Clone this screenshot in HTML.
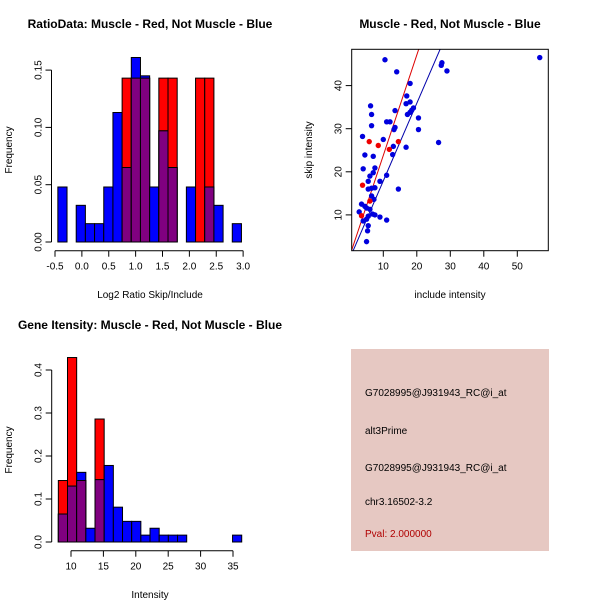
<!DOCTYPE html>
<html><head><meta charset="utf-8"><style>
body{margin:0;background:#fff}
svg{display:block;font-family:"Liberation Sans",sans-serif}
</style></head><body>
<svg id="c" width="600" height="600" xmlns="http://www.w3.org/2000/svg">
<rect width="600" height="600" fill="#fff"/>
<text x="150" y="28" font-size="12" font-weight="bold" text-anchor="middle">RatioData: Muscle - Red, Not Muscle - Blue</text>
<text x="450" y="28" font-size="12" font-weight="bold" text-anchor="middle">Muscle - Red, Not Muscle - Blue</text>
<text x="150" y="329" font-size="12" font-weight="bold" text-anchor="middle">Gene Itensity: Muscle - Red, Not Muscle - Blue</text>
<text x="150" y="298" font-size="10" text-anchor="middle">Log2 Ratio Skip/Include</text>
<text x="450" y="298" font-size="10" text-anchor="middle">include intensity</text>
<text x="150" y="598" font-size="10" text-anchor="middle">Intensity</text>
<text transform="translate(12,150) rotate(-90)" font-size="10" text-anchor="middle">Frequency</text>
<text transform="translate(312,150) rotate(-90)" font-size="10" text-anchor="middle">skip intensity</text>
<text transform="translate(12,450) rotate(-90)" font-size="10" text-anchor="middle">Frequency</text>
<g>
<rect x="351" y="349" width="198" height="202" fill="#e6c8c2"/>
<text x="365" y="396" font-size="10">G7028995@J931943_RC@i_at</text>
<text x="365" y="434" font-size="10">alt3Prime</text>
<text x="365" y="471" font-size="10">G7028995@J931943_RC@i_at</text>
<text x="365" y="505" font-size="10">chr3.16502-3.2</text>
<text x="365" y="537" font-size="10" fill="#b00000">Pval: 2.000000</text>
</g>
</svg>
<script>
// Ratio histogram data
const ratioStart = -0.447;
const ratioBinWidth = 0.1708;
const ratioBlue = [0.048,0,0.032,0.016,0.016,0.048,0.113,0.065,0.161,0.145,0.048,0.097,0.065,0,0.048,0,0.048,0.032,0,0.016];
const ratioRed  = [0,0,0,0,0,0,0,0.143,0.143,0.143,0,0.143,0.143,0,0,0.143,0.143,0,0,0];
const ratioXTicks = [-0.5,0.0,0.5,1.0,1.5,2.0,2.5,3.0];
const ratioXLabels = ["-0.5","0.0","0.5","1.0","1.5","2.0","2.5","3.0"];
const ratioYTicks = [0,0.05,0.10,0.15];
const ratioYLabels = ["0.00","0.05","0.10","0.15"];
// Intensity histogram data
const intStart = 8.045;
const intBinWidth = 1.415;
const intBlue = [0.065,0.13,0.162,0.032,0.145,0.178,0.081,0.048,0.048,0.016,0.032,0.016,0.016,0.016,0,0,0,0,0,0.016];
const intRed  = [0.143,0.429,0.143,0,0.286,0,0,0,0,0,0,0,0,0,0,0,0,0,0,0];
const intXTicks = [10,15,20,25,30,35];
const intYTicks = [0,0.1,0.2,0.3,0.4];
const intYLabels = ["0.0","0.1","0.2","0.3","0.4"];
// Scatter data
const blueX = [10.5,14,18,27.5,27.3,29,56.7,17,18,16.8,6.2,19,18.5,18,17.2,13.5,6.5,20.5,11,12,13.5,13.2,6.5,20.5,3.8,10,26.5,13,16.8,12.8,4.5,7,4,7.5,7,6,11,5.5,9,5.5,6.5,7.5,14.5,6.5,7.2,3.5,4.5,5,6,2.8,6.8,7.5,5.5,9,4,5,11,5.5,5.3,5];
const blueY = [46,43.2,40.5,45.3,44.7,43.4,46.5,37.6,36.2,35.8,35.3,34.8,34.3,33.8,33.3,34.2,33.3,32.5,31.6,31.6,30.3,29.8,30.7,29.8,28.2,27.5,26.8,25.9,25.7,24,23.9,23.6,20.7,20.9,19.8,19,19.2,17.8,17.8,16,16.2,16.3,16,14.4,13.6,12.5,12,11.6,11.3,10.7,10.2,10,9.7,9.5,8.6,9,8.8,7.5,6.3,3.8];
const redX = [5.8,8.5,11.8,14.5,3.8,3.5,6];
const redY = [27,26.1,25.2,27,16.9,9.8,13.2];
const redFit = [0.5,2.33];   // intercept, slope
const blueFit = [-0.1,1.8];
const scXTicks = [10,20,30,40,50];
const scYTicks = [10,20,30,40];

const NS="http://www.w3.org/2000/svg";
const svg=document.getElementById('c');
function mk(tag,attrs,parent){const e=document.createElementNS(NS,tag);for(const k in attrs)e.setAttribute(k,attrs[k]);(parent||svg).appendChild(e);return e;}

function hist(g,start,bw,blue,red,sx,sy,prefix){
  for(let i=0;i<blue.length;i++){
    const x0=sx(start+i*bw),x1=sx(start+(i+1)*bw);
    const b=blue[i],r=red[i],m=Math.min(b,r);
    if(r>0){const e=mk('rect',{x:x0,y:sy(r),width:x1-x0,height:sy(0)-sy(r),fill:'#ff0000',stroke:'#000','stroke-width':1},g);
      
      }
    if(b>0){const e=mk('rect',{x:x0,y:sy(b),width:x1-x0,height:sy(0)-sy(b),fill:'#0000ff',stroke:'#000','stroke-width':1},g);
      
      }
    if(m>0){const e=mk('rect',{x:x0,y:sy(m),width:x1-x0,height:sy(0)-sy(m),fill:'#800080',stroke:'#000','stroke-width':1},g);
      
      }
  }
}
function axes(g,xt,xl,yt,yl,sx,sy,xAxisY,yAxisX){
  mk('line',{x1:sx(xt[0]),x2:sx(xt[xt.length-1]),y1:xAxisY,y2:xAxisY,stroke:'#000'},g);
  xt.forEach((v,i)=>{mk('line',{x1:sx(v),x2:sx(v),y1:xAxisY,y2:xAxisY+6,stroke:'#000'},g);
    const t=mk('text',{x:sx(v),y:xAxisY+19,'font-size':10,'text-anchor':'middle'},g);t.textContent=xl[i];
    
    });
  mk('line',{x1:yAxisX,x2:yAxisX,y1:sy(yt[0]),y2:sy(yt[yt.length-1]),stroke:'#000'},g);
  yt.forEach((v,i)=>{mk('line',{x1:yAxisX-6,x2:yAxisX,y1:sy(v),y2:sy(v),stroke:'#000'},g);
    const t=mk('text',{transform:`translate(${yAxisX-10},${sy(v)}) rotate(-90)`,'font-size':10,'text-anchor':'middle'},g);t.textContent=yl[i];
    
    });
}
// Ratio histogram
{const g=mk('g',{});
 
 
 const sx=v=>55+(v+0.5)*53.75, sy=v=>242-v*1146;
 hist(g,ratioStart,ratioBinWidth,ratioBlue,ratioRed,sx,sy,'ratio');
 axes(g,ratioXTicks,ratioXLabels,ratioYTicks,ratioYLabels,sx,sy,250.7,51.5);}
// Intensity histogram
{const g=mk('g',{});
 
 
 const sx=v=>71+(v-10)*6.48, sy=v=>542-v*430;
 hist(g,intStart,intBinWidth,intBlue,intRed,sx,sy,'intensity');
 axes(g,intXTicks,intXTicks.map(String),intYTicks,intYLabels,sx,sy,550.7,51.7);}
// Scatter
{const g=mk('g',{});
 
 
 const sx=v=>349.8+v*3.35, sy=v=>258-v*4.31;
 const L=351.7,R=548.3,T=49.3,B=250.7;
 const cp=mk('clipPath',{id:'scclip'},g);mk('rect',{x:L,y:T,width:R-L,height:B-T},cp);
 const fits=[[redFit,'#dd0000','red-fit-line'],[blueFit,'#0000aa','blue-fit-line']];
 fits.forEach(f=>{const x0=0,x1=60;
   const l=mk('line',{x1:sx(x0),y1:sy(f[0][0]+f[0][1]*x0),x2:sx(x1),y2:sy(f[0][0]+f[0][1]*x1),stroke:f[1],'stroke-width':1,'clip-path':'url(#scclip)'},g);
   
   });
 blueX.forEach((x,i)=>{const c=mk('circle',{cx:sx(x),cy:sy(blueY[i]),r:2.7,fill:'#0000dd'},g);
   
   });
 redX.forEach((x,i)=>{const c=mk('circle',{cx:sx(x),cy:sy(redY[i]),r:2.7,fill:'#ee0000'},g);
   
   });
 mk('rect',{x:L,y:T,width:R-L,height:B-T,fill:'none',stroke:'#000'},g);
 scXTicks.forEach(v=>{mk('line',{x1:sx(v),x2:sx(v),y1:B,y2:B+6,stroke:'#000'},g);
   const t=mk('text',{x:sx(v),y:B+19,'font-size':10,'text-anchor':'middle'},g);t.textContent=v;
   
   });
 scYTicks.forEach(v=>{mk('line',{x1:L-6,x2:L,y1:sy(v),y2:sy(v),stroke:'#000'},g);
   const t=mk('text',{transform:`translate(${L-10},${sy(v)}) rotate(-90)`,'font-size':10,'text-anchor':'middle'},g);t.textContent=v;
   
   });}
</script>
</body></html>
